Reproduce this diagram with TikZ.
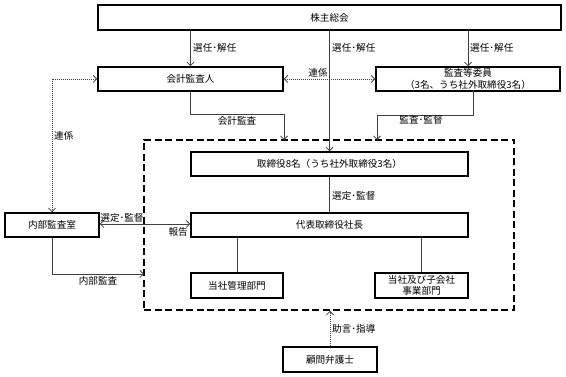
\documentclass[tikz,border=0pt]{standalone}
\usepackage{fontspec}
\setmainfont{Noto Sans CJK JP}
\usetikzlibrary{arrows.meta}
\begin{document}
\begin{tikzpicture}[x=1pt,y=-1pt,
  font=\fontsize{9.6}{11.5}\selectfont,
  box/.style={draw=black, line width=1.5pt, fill=white, inner sep=0pt, align=center},
  conn/.style={draw=black!75, line width=0.8pt},
  tip/.style={-{Straight Barb[length=3.5pt,width=7pt]}},
  tips/.style={{Straight Barb[length=3.5pt,width=7pt]}-{Straight Barb[length=3.5pt,width=7pt]}},
  dots/.style={dash pattern=on 1pt off 1pt},
  grpbox/.style={draw=black, line width=1.5pt, dash pattern=on 7pt off 3.5pt, inner sep=0pt},
  lbl/.style={inner sep=0pt}
]
\useasboundingbox (0,0) rectangle (566,377);

% group
\node[grpbox, minimum width=370pt, minimum height=170pt] (grp) at (329,225) {};

% boxes
\node[box, minimum width=463pt, minimum height=25pt] (sh) at (329.5,17.5) {株主総会};
\node[box, minimum width=185pt, minimum height=24pt] (ka) at (190.5,79) {会計監査人};
\node[box, minimum width=184pt, minimum height=24pt] (kt) at (468,79) {監査等委員\\（3名、うち社外取締役3名）};
\node[box, minimum width=277pt, minimum height=24pt] (tr) at (329.5,164) {取締役8名（うち社外取締役3名）};
\node[box, minimum width=277pt, minimum height=24pt] (dai) at (329.5,225) {代表取締役社長};
\node[box, minimum width=94pt, minimum height=24pt] (nai) at (52,225) {内部監査室};
\node[box, minimum width=92pt, minimum height=25pt] (kanri) at (237,285.5) {当社管理部門};
\node[box, minimum width=93pt, minimum height=25pt] (jigyo) at (421.5,285.5) {当社及び子会社\\事業部門};
\node[box, minimum width=94pt, minimum height=25pt] (komon) at (330,359.5) {顧問弁護士};

% free ends on the dashed frame
\coordinate (kaend) at (284,140);
\coordinate (ktend) at (377,140);
\coordinate (naiend) at (144,274);

% connectors
\draw[conn, tip] (ka.north |- sh.south) -- (ka.north);
\draw[conn, tip] (sh.south) -- (tr.north);
\draw[conn, tip] (kt.north |- sh.south) -- (kt.north);
\draw[conn, dots, tips] (ka.east) -- (kt.west);
\draw[conn, tip] (ka.south) -- (190.5,114) -| (kaend);
\draw[conn, tip] (473,91) -- (473,115) -| (ktend);
\draw[conn] (tr.south) -- (dai.north);
\draw[conn, tips] (nai.east |- 0,224) -- (dai.west |- 0,224);
\draw[conn, tip] (nai.south) |- (naiend);
\draw[conn, dots, tips] (ka.west) -| (nai.north);
\draw[conn] (kanri.north |- dai.south) -- (kanri.north);
\draw[conn] (jigyo.north |- dai.south) -- (jigyo.north);
\draw[conn, dots, tip] (komon.north) -- (komon.north |- grp.south);

% labels
\node[lbl, anchor=west] (l1) at (193,48) {選任･解任};
\node[lbl, anchor=west] (l2) at (332,48) {選任･解任};
\node[lbl, anchor=west] (l3) at (470,48) {選任･解任};
\node[lbl] (l4) at (318,73) {連係};
\node[lbl] (l5) at (237,121) {会計監査};
\node[lbl] (l6) at (421,120) {監査･監督};
\node[lbl, anchor=west] (l7) at (332,196) {選定･監督};
\node[lbl] (l8) at (122,218) {選定･監督};
\node[lbl, anchor=east] (l9) at (188,232) {報告};
\node[lbl] (l10) at (98,281) {内部監査};
\node[lbl, anchor=west] (l11) at (332,329) {助言･指導};
\node[lbl, anchor=west] (l12) at (54,136) {連係};
\end{tikzpicture}
\end{document}
